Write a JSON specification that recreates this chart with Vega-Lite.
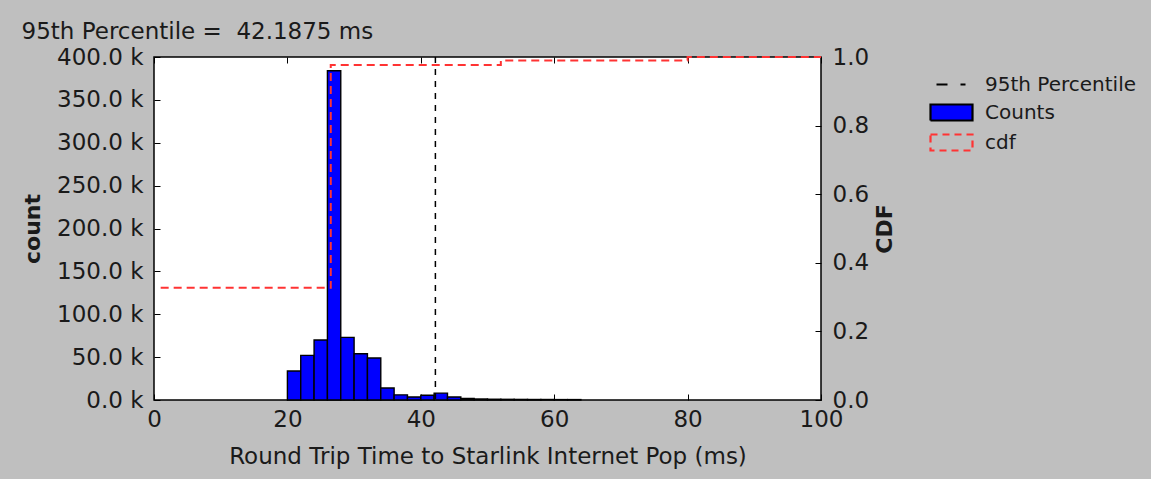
{
  "$schema": "https://vega.github.io/schema/vega-lite/v6.json",
  "width": 667,
  "height": 343,
  "padding": {"left": 21, "top": 21, "right": 15, "bottom": 12},
  "background": "#bfbfbf",
  "config": {
    "font": "DejaVu Sans",
    "view": {"fill": "white", "stroke": "black", "strokeWidth": 1.5},
    "axis": {
      "labelFont": "DejaVu Sans", "labelFontSize": 23, "labelColor": "#1a1a1a",
      "titleFont": "DejaVu Sans", "titleColor": "#1a1a1a", "titleFontSize": 23,
      "grid": false, "domain": false, "tickColor": "black", "tickSize": -6,
      "labelPadding": 14, "tickWidth": 1, "labelFlush": false
    }
  },
  "title": {
    "text": "95th Percentile =\u00a0 42.1875 ms",
    "anchor": "start", "frame": "bounds", "fontSize": 23, "fontWeight": "normal",
    "color": "#1a1a1a", "font": "DejaVu Sans", "offset": 2
  },
  "datasets": {
    "hist": [
      {"start": 20, "end": 22, "count": 33800},
      {"start": 22, "end": 24, "count": 52000},
      {"start": 24, "end": 26, "count": 70000},
      {"start": 26, "end": 28, "count": 384000},
      {"start": 28, "end": 30, "count": 73000},
      {"start": 30, "end": 32, "count": 54000},
      {"start": 32, "end": 34, "count": 49000},
      {"start": 34, "end": 36, "count": 14000},
      {"start": 36, "end": 38, "count": 6000},
      {"start": 38, "end": 40, "count": 3500},
      {"start": 40, "end": 42, "count": 5500},
      {"start": 42, "end": 44, "count": 8000},
      {"start": 44, "end": 46, "count": 3500},
      {"start": 46, "end": 48, "count": 1800},
      {"start": 48, "end": 50, "count": 1200},
      {"start": 50, "end": 52, "count": 900},
      {"start": 52, "end": 54, "count": 800},
      {"start": 54, "end": 56, "count": 700},
      {"start": 56, "end": 58, "count": 600},
      {"start": 58, "end": 60, "count": 600},
      {"start": 60, "end": 62, "count": 500},
      {"start": 62, "end": 64, "count": 500}
    ],
    "p95": [{"x": 42.1875, "label": "95th Percentile"}],
    "cdf": [
      {"x": 1, "cdf": 0.327},
      {"x": 26.5, "cdf": 0.977},
      {"x": 52, "cdf": 0.99},
      {"x": 80, "cdf": 1.0},
      {"x": 100, "cdf": 1.0}
    ]
  },
  "layer": [
    {
      "data": {"name": "hist"},
      "mark": {"type": "bar", "fill": "#0000ff", "stroke": "black", "strokeWidth": 1.4},
      "encoding": {
        "x": {
          "field": "start", "type": "quantitative",
          "scale": {"domain": [0, 100], "nice": false},
          "axis": {"values": [0, 20, 40, 60, 80, 100], "title": "Round Trip Time to Starlink Internet Pop (ms)", "titleFontWeight": "normal", "labelPadding": 14, "titlePadding": 14}
        },
        "x2": {"field": "end"},
        "y": {
          "field": "count", "type": "quantitative",
          "scale": {"domain": [0, 400000], "nice": false},
          "axis": {
            "values": [0, 50000, 100000, 150000, 200000, 250000, 300000, 350000, 400000],
            "labelExpr": "format(datum.value/1000, '.1f') + ' k'",
            "labelPadding": 17,
            "title": "count", "titleFontWeight": "bold", "titleFontSize": 22, "titlePadding": 12
          }
        },
        "y2": {"datum": 0}
      }
    },
    {
      "data": {"name": "p95"},
      "mark": {"type": "rule", "strokeDash": [6, 6], "strokeWidth": 1.5},
      "encoding": {
        "x": {
          "field": "x", "type": "quantitative",
          "axis": {"orient": "top", "labels": false, "title": null, "values": [0, 20, 40, 60, 80, 100]}
        },
        "color": {
          "field": "label", "type": "nominal",
          "scale": {"domain": ["95th Percentile", "Counts", "cdf"], "range": ["black", "black", "#ff3333"]},
          "legend": {
            "title": null, "orient": "none", "legendX": 786, "legendY": 16,
            "labelFont": "DejaVu Sans", "labelFontSize": 20, "labelColor": "#1a1a1a",
            "symbolSize": 400, "rowPadding": 5, "labelOffset": 22,
            "encode": {
              "symbols": {
                "update": {
                  "shape": {"signal": "datum.value === '95th Percentile' ? 'M-1.5,0H-0.4M0.9,0H1.4' : 'M-2.1,-0.8H2.1V0.8H-2.1Z'"},
                  "fill": {"signal": "datum.value === 'Counts' ? '#0000ff' : 'transparent'"},
                  "stroke": {"signal": "datum.value === 'cdf' ? '#ff3333' : 'black'"},
                  "strokeWidth": {"value": 2.2},
                  "strokeDash": {"signal": "datum.value === 'cdf' ? [7, 5] : [100, 0]"},
                  "opacity": {"value": 1}
                }
              }
            }
          }
        }
      }
    },
    {
      "data": {"name": "cdf"},
      "mark": {"type": "line", "interpolate": "step-after", "color": "#ff3333", "strokeDash": [8, 5], "strokeWidth": 2},
      "encoding": {
        "x": {"field": "x", "type": "quantitative", "axis": null},
        "y": {
          "field": "cdf", "type": "quantitative",
          "scale": {"domain": [0, 1], "nice": false},
          "axis": {
            "orient": "right", "values": [0, 0.2, 0.4, 0.6, 0.8, 1.0], "format": ".1f", "labelPadding": 17,
            "title": "CDF", "titleFontWeight": "bold", "titleFontSize": 22, "titleAngle": 270, "titlePadding": 28
          }
        }
      }
    }
  ],
  "resolve": {"scale": {"y": "independent"}, "axis": {"x": "independent", "y": "independent"}}
}
